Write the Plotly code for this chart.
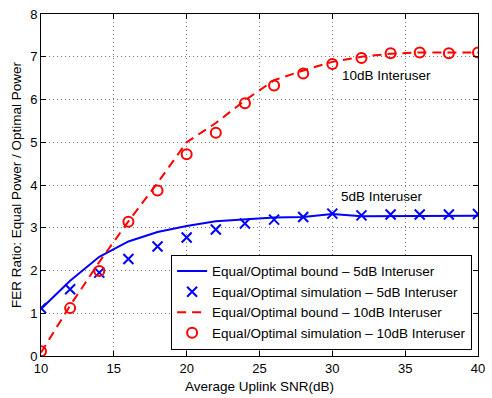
import plotly.graph_objects as go

snr = [10, 12, 14, 16, 18, 20, 22, 24, 26, 28, 30, 32, 34, 36, 38, 40]

bound_5db = [1.10, 1.76, 2.32, 2.68, 2.90, 3.04, 3.15, 3.20, 3.24, 3.25, 3.32, 3.27, 3.27, 3.27, 3.27, 3.28]
sim_5db = [1.12, 1.56, 1.95, 2.27, 2.56, 2.77, 2.96, 3.10, 3.19, 3.25, 3.33, 3.29, 3.31, 3.31, 3.31, 3.32]
bound_10db = [0.08, 1.18, 2.20, 3.15, 4.05, 5.00, 5.45, 5.98, 6.45, 6.68, 6.88, 7.00, 7.07, 7.10, 7.10, 7.10]
sim_10db = [0.11, 1.12, 1.99, 3.14, 3.87, 4.72, 5.22, 5.91, 6.33, 6.61, 6.83, 6.97, 7.08, 7.10, 7.08, 7.10]

names = [
    "Equal/Optimal bound \u2013 5dB Interuser",
    "Equal/Optimal simulation \u2013 5dB Interuser",
    "Equal/Optimal bound \u2013 10dB Interuser",
    "Equal/Optimal simulation \u2013 10dB Interuser",
]

x_ticks = [10, 15, 20, 25, 30, 35, 40]
y_ticks = [0, 1, 2, 3, 4, 5, 6, 7, 8]

FONT = "Liberation Sans, Arial, Helvetica, sans-serif"

fig = go.Figure()
fig.add_trace(go.Scatter(x=snr, y=bound_5db, mode="lines", name=names[0],
                         line=dict(color="#0000ff", width=2)))
fig.add_trace(go.Scatter(x=snr, y=sim_5db, mode="markers", name=names[1],
                         marker=dict(symbol="x-thin-open", size=10, color="#0000ff",
                                     line=dict(color="#0000ff", width=2))))
fig.add_trace(go.Scatter(x=snr, y=bound_10db, mode="lines", name=names[2],
                         line=dict(color="#ff0000", width=2, dash="9px,6px")))
fig.add_trace(go.Scatter(x=snr, y=sim_10db, mode="markers", name=names[3],
                         marker=dict(symbol="circle-open", size=10, color="#ff0000",
                                     line=dict(color="#ff0000", width=2))))

fig.add_annotation(x=33.75, y=6.55, text="10dB Interuser", showarrow=False,
                   font=dict(size=13.5, color="black", family=FONT))
fig.add_annotation(x=33.4, y=3.74, text="5dB Interuser", showarrow=False,
                   font=dict(size=13.5, color="black", family=FONT))

axis_common = dict(
    showline=True, linecolor="black", linewidth=1, mirror="ticks",
    ticks="inside", ticklen=5, tickcolor="black",
    showgrid=True, gridcolor="#777777", gridwidth=1, griddash="1px,3px",
    zeroline=False, tickfont=dict(size=13, color="black", family=FONT),
)

fig.update_layout(
    width=492, height=398,
    margin=dict(l=41, r=7, t=7, b=40),
    paper_bgcolor="white", plot_bgcolor="white",
    font=dict(family=FONT, size=13, color="black"),
    showlegend=True,
    legend=dict(x=0.9865, y=0.018, xanchor="right", yanchor="bottom",
                bgcolor="white", bordercolor="black", borderwidth=1,
                font=dict(size=13.5, color="black", family=FONT),
                tracegroupgap=0, itemwidth=30),
    xaxis=dict(range=[10, 40], tickvals=x_ticks, ticktext=[str(v) for v in x_ticks],
               title=dict(text="Average Uplink SNR(dB)", font=dict(size=13.5), standoff=6),
               **axis_common),
    yaxis=dict(range=[0, 8], tickvals=y_ticks, ticktext=[str(v) for v in y_ticks],
               title=dict(text="FER Ratio: Equal Power / Optimal Power", font=dict(size=13.5), standoff=5),
               **axis_common),
)

fig.write_html("out.html")
